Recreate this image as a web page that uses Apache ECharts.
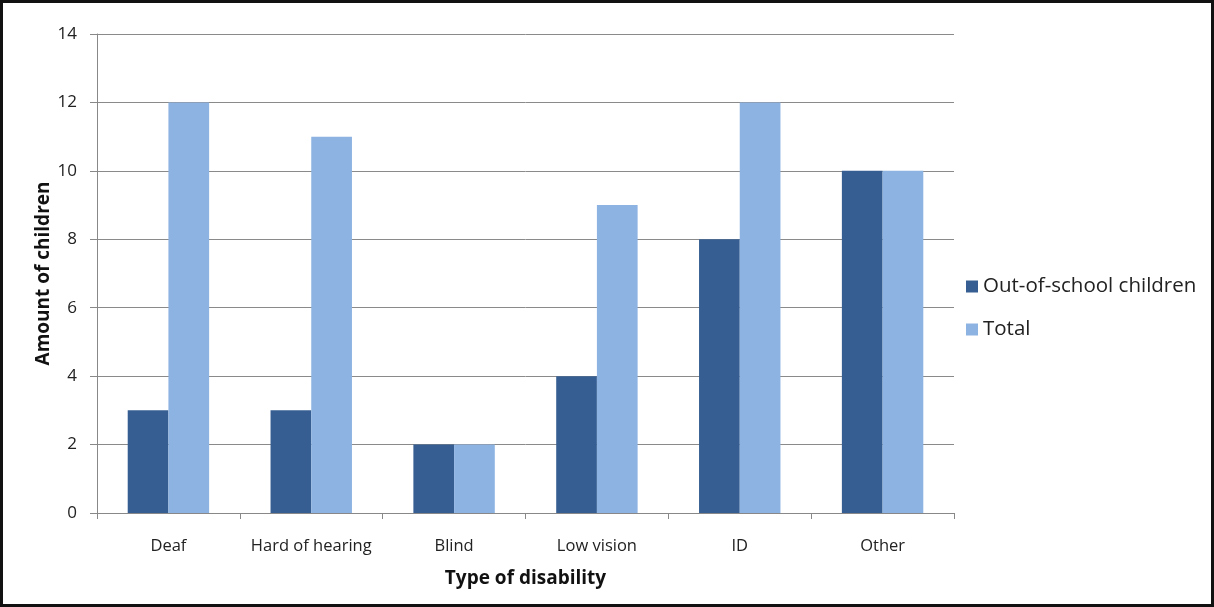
<!DOCTYPE html>
<html>
<head>
<meta charset="utf-8">
<script src="https://cdn.jsdelivr.net/npm/echarts@6/dist/echarts.min.js"></script>
<style>
  html, body { margin: 0; padding: 0; background: #fff; }
  #chart { width: 1214px; height: 607px; box-sizing: border-box; border: 3px solid #111; }
</style>
</head>
<body>
<div id="chart"></div>
<script>
const categories = ['Deaf', 'Hard of hearing', 'Blind', 'Low vision', 'ID', 'Other'];
const outOfSchool = [3, 3, 2, 4, 8, 10];
const total = [12, 11, 2, 9, 12, 10];
const seriesNames = ['Out-of-school children', 'Total'];

const font = '"Open Sans", "Liberation Sans", sans-serif';
const chart = echarts.init(document.getElementById('chart'));
chart.setOption({
  animation: false,
  textStyle: { fontFamily: font },
  grid: { left: 94, top: 31, right: 257, bottom: 91, containLabel: false },
  legend: {
    orient: 'vertical',
    left: 958,
    top: 268,
    itemWidth: 12,
    itemHeight: 12,
    itemGap: 22,
    icon: 'rect',
    textStyle: { fontSize: 20.5, color: '#222', fontFamily: font },
    data: seriesNames
  },
  xAxis: {
    type: 'category',
    data: categories,
    name: 'Type of disability',
    nameLocation: 'middle',
    nameGap: 56,
    nameMoveOverlap: false,
    nameTextStyle: { fontSize: 19, fontWeight: 'bold', color: '#111' },
    axisLine: { lineStyle: { color: '#888', width: 1 } },
    axisTick: { show: true, interval: 0, length: 6, lineStyle: { color: '#888' } },
    axisLabel: { interval: 0, fontSize: 16.5, color: '#222', margin: 25 }
  },
  yAxis: {
    type: 'value',
    min: 0,
    max: 14,
    interval: 2,
    name: 'Amount of children',
    nameLocation: 'middle',
    nameGap: 44,
    nameMoveOverlap: false,
    nameTextStyle: { fontSize: 19, fontWeight: 'bold', color: '#111' },
    axisLine: { show: true, lineStyle: { color: '#888', width: 1 } },
    axisTick: { show: true, length: 7, lineStyle: { color: '#888' } },
    axisLabel: { fontSize: 17, color: '#222', margin: 20 },
    splitLine: { lineStyle: { color: '#8a8a8a', width: 1 } }
  },
  series: [
    {
      name: seriesNames[0],
      type: 'bar',
      data: outOfSchool,
      barGap: '0%',
      barCategoryGap: '43%',
      itemStyle: { color: '#375E92' }
    },
    {
      name: seriesNames[1],
      type: 'bar',
      data: total,
      barGap: '0%',
      barCategoryGap: '43%',
      itemStyle: { color: '#8DB3E2' }
    }
  ]
});
</script>
</body>
</html>
